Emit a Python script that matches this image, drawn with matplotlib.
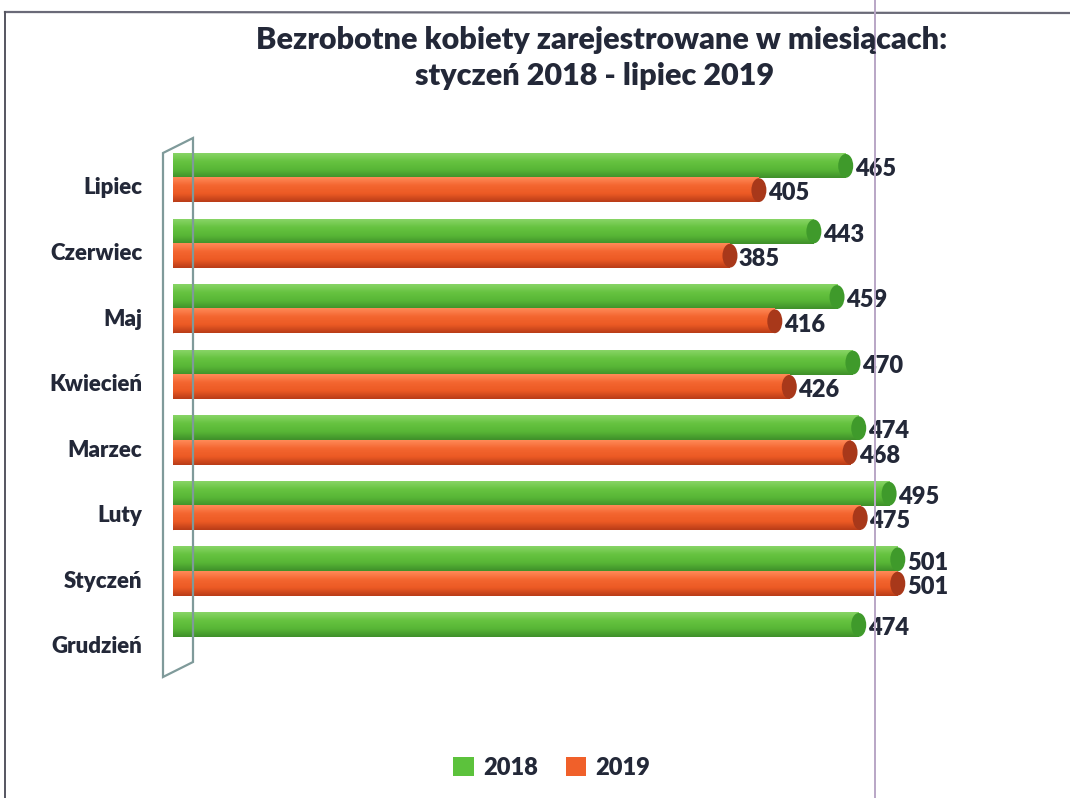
import numpy as np
import matplotlib
matplotlib.use("Agg")
import matplotlib.pyplot as plt
from matplotlib.patches import Ellipse, Polygon
from matplotlib.lines import Line2D
from matplotlib.colors import LinearSegmentedColormap

# ---- data ----
months = ["Lipiec", "Czerwiec", "Maj", "Kwiecień", "Marzec", "Luty", "Styczeń", "Grudzień"]
values_2018 = [465, 443, 459, 470, 474, 495, 501, 474]
values_2019 = [405, 385, 416, 426, 468, 475, 501, None]
series_names = ["2018", "2019"]
title_lines = ["Bezrobotne kobiety zarejestrowane w miesiącach:", "styczeń 2018 - lipiec 2019"]

W, H = 1070, 798
fig = plt.figure(figsize=(W / 100, H / 100), dpi=100)
fig.patch.set_facecolor("white")

FONT = ["Lato", "DejaVu Sans"]
TXT = "#232838"

# axes placed in pixel terms
left_px, right_px, top_px, bot_px = 173, 1041, 140, 690
ax = fig.add_axes([left_px / W, 1 - bot_px / H, (right_px - left_px) / W, (bot_px - top_px) / H])
ax.set_facecolor("none")
xmax = 600
ymin_v = 7 + (bot_px - 637) / 65.6
ymax_v = -(178 - top_px) / 65.6
for s in ax.spines.values():
    s.set_visible(False)
ax.set_xticks([])

green_cmap = LinearSegmentedColormap.from_list("g", ["#88d466", "#66c340", "#58b636", "#3f902a"])
orange_cmap = LinearSegmentedColormap.from_list("o", ["#ff8a58", "#f46630", "#ec5a24", "#b93c18"])
cap_colors = ["#3f9a2b", "#a8381a"]
cmaps = [green_cmap, orange_cmap]

h = 0.37
grad = np.linspace(0, 1, 64).reshape(-1, 1)
px_per_unit = (right_px - left_px) / xmax
cap_w = 15 / px_per_unit
start_w = 8 / px_per_unit

for i, m in enumerate(months):
    for k, vals in enumerate([values_2018, values_2019]):
        v = vals[i]
        if v is None:
            continue
        yc = i - h / 2 if k == 0 else i + h / 2
        y0, y1 = yc - h / 2, yc + h / 2
        ax.imshow(grad, cmap=cmaps[k], aspect="auto", extent=[0, v, y1, y0],
                  interpolation="bilinear", zorder=2)
        ax.add_patch(Ellipse((0, yc), start_w, h, facecolor=cmaps[k](0.45), edgecolor="none", zorder=1.5))
        ax.add_patch(Ellipse((v, yc), cap_w, h * 0.98, facecolor=cap_colors[k], edgecolor="none", zorder=3))
        ax.text(v + cap_w / 2 + 1, yc + 0.05, f"{v}", ha="left", va="center",
                fontsize=17, fontweight="heavy", color=TXT, family=FONT, zorder=4)

ax.set_xlim(0, xmax)
ax.set_ylim(ymin_v, ymax_v)
ax.set_yticks(np.arange(len(months)) + 0.12)
ax.set_yticklabels(months, fontsize=16, fontweight="heavy", color=TXT, family=FONT)
ax.tick_params(axis="y", length=0, pad=22)

def fx(px):
    return px / W

def fy(py):
    return 1 - py / H

# back wall (3D floor edge)
wall = Polygon([(fx(163), fy(153)), (fx(193), fy(138)), (fx(193), fy(662)), (fx(163), fy(677))],
               closed=True, fill=False, edgecolor="#7f9a9a", linewidth=1.6, transform=fig.transFigure)
fig.add_artist(wall)

# title
fig.text(fx(602), fy(40), title_lines[0], ha="center", va="center", fontsize=22,
         fontweight="heavy", color=TXT, family=FONT)
fig.text(fx(595), fy(76), title_lines[1], ha="center", va="center", fontsize=22,
         fontweight="heavy", color=TXT, family=FONT)

# legend
leg_handles = [plt.Rectangle((0, 0), 1, 1, facecolor=c) for c in ["#5cc23c", "#f0602a"]]
fig.legend(leg_handles, series_names, loc="center", bbox_to_anchor=(fx(552), fy(768)), ncol=2,
           frameon=False, handlelength=0.85, handleheight=0.85, columnspacing=1.2, handletextpad=0.4,
           prop={"family": FONT, "weight": "heavy", "size": 17}, labelcolor=TXT)

# scan frame lines
fig.add_artist(Line2D([fx(5), fx(1070)], [fy(12), fy(13)], color="#6a6a78", linewidth=1.6, transform=fig.transFigure))
fig.add_artist(Line2D([fx(5), fx(5)], [fy(12), fy(798)], color="#555560", linewidth=1.4, transform=fig.transFigure))
fig.add_artist(Line2D([fx(875), fx(875)], [fy(0), fy(798)], color="#b9a6c6", linewidth=1.4, transform=fig.transFigure))

fig.savefig("out.png", dpi=100, facecolor="white")
